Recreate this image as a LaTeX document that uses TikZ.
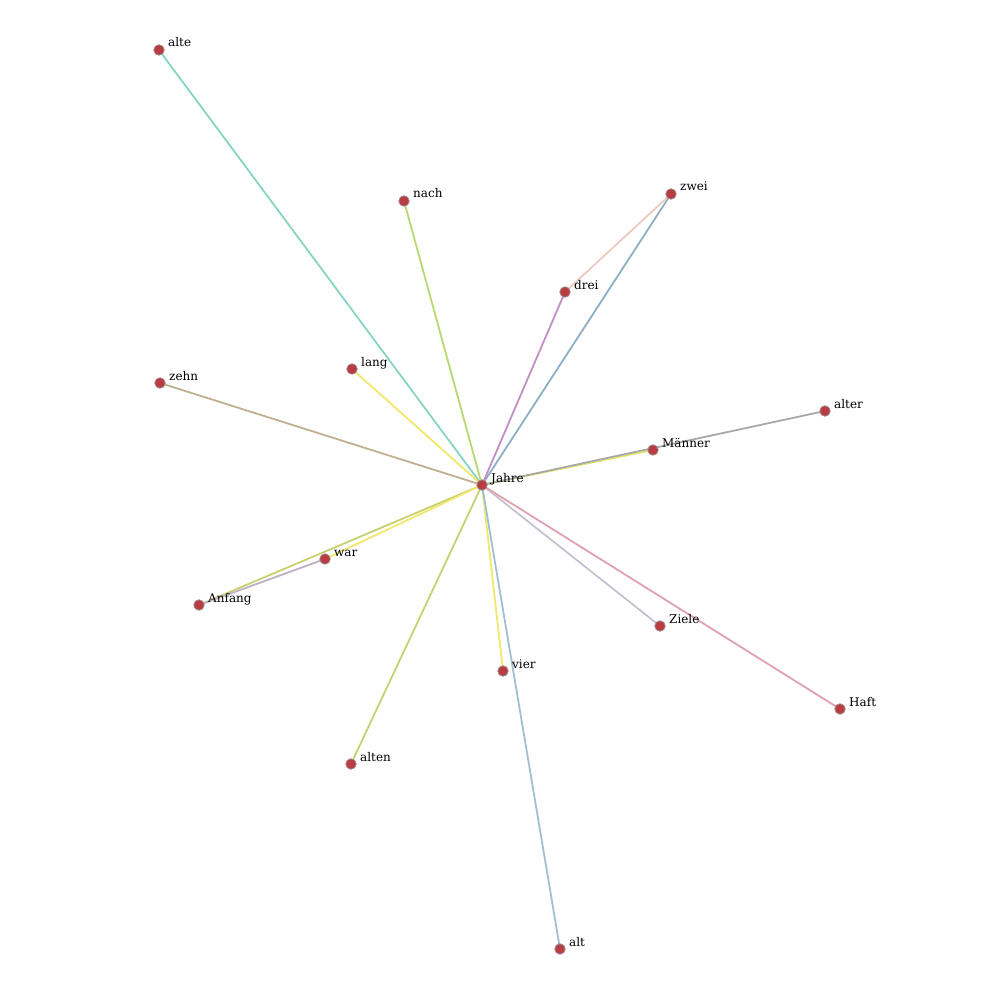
\documentclass[tikz,border=0pt]{standalone}
\usepackage{fontspec}
\setmainfont{DejaVu Serif}
\usepackage{tikz}
\usepackage{xcolor}
\usetikzlibrary{positioning}
\definecolor{wdot}{HTML}{B83C42}
\definecolor{wring}{HTML}{9A8A8A}
\definecolor{eteal}{HTML}{88D4C4}
\definecolor{egreen}{HTML}{B8D870}
\definecolor{eblue}{HTML}{8EAEC4}
\definecolor{epurple}{HTML}{C090C4}
\definecolor{epeach}{HTML}{ECCAC0}
\definecolor{eyellow}{HTML}{F0E86C}
\definecolor{etan}{HTML}{C0B090}
\definecolor{egray}{HTML}{A8A8A8}
\definecolor{eolive}{HTML}{C8D070}
\definecolor{emauve}{HTML}{C0B0C4}
\definecolor{esky}{HTML}{A0C0D0}
\definecolor{elilac}{HTML}{C8C0D0}
\definecolor{erose}{HTML}{E0A0B0}

\begin{document}
\begin{tikzpicture}[x=1pt, y=-1pt, font=\fontsize{12}{14}\selectfont,
    word/.style={circle, fill=wdot, draw=wring, line width=0.8pt, minimum size=10.5pt, inner sep=0pt},
    tag/.style={anchor=base west, inner sep=0pt},
    tie/.style={line width=1.8pt}]
\useasboundingbox (0,0) rectangle (1000,1000);
% word positions
\foreach \n/\x/\y in {%
    alte/159/50, nach/404/201, zwei/671/194, drei/565/292,
    lang/352/369, zehn/160/383, alter/825/411,
    maenner/653/450, jahre/482/485, war/325/559,
    anfang/199/605, ziele/660/626, vier/503/671,
    haft/840/709, alten/351/764, alt/560/949}
{
    \coordinate (\n) at (\x,\y);
}
% edges
\foreach \a/\b/\col in {%
    jahre/alte/eteal, jahre/nach/egreen, jahre/zwei/eblue, jahre/drei/epurple,
    drei/zwei/epeach, jahre/lang/eyellow, jahre/zehn/etan,
    jahre/maenner/eyellow!80!egreen, jahre/alter/egray,
    jahre/anfang/eolive, jahre/war/eyellow, war/anfang/emauve,
    jahre/alten/eolive, jahre/vier/eyellow, jahre/alt/esky,
    jahre/ziele/elilac, jahre/haft/erose}
{
    \draw[tie, \col] (\a) -- (\b);
}
% dots and labels
\foreach \n/\t in {%
    alte/alte, nach/nach, zwei/zwei, drei/drei, lang/lang, zehn/zehn,
    alter/alter, maenner/Männer, jahre/Jahre, war/war, anfang/Anfang,
    ziele/Ziele, vier/vier, haft/Haft, alten/alten, alt/alt}
{
    \node[word] (\n-dot) at (\n) {};
    \node[tag] (\n-tag) at ([shift={(9pt,3pt)}]\n-dot.center) {\t};
}
\end{tikzpicture}
\end{document}
